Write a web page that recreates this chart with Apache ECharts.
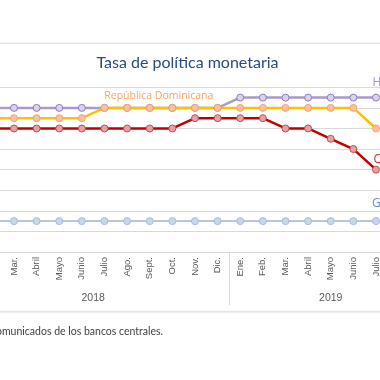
<!DOCTYPE html>
<html><head><meta charset="utf-8">
<script src="https://cdn.jsdelivr.net/npm/echarts@6/dist/echarts.min.js"></script>
<style>
html,body{margin:0;padding:0;background:#fff}
#wrap{position:relative;width:380px;height:380px;overflow:hidden;background:#fff}
#chart{position:absolute;left:-100px;top:0;width:600px;height:380px}
</style>
</head><body><div id="wrap"><div id="chart"></div></div>
<script>
const months = ['Ene.','Feb.','Mar.','Abril','Mayo','Junio','Julio','Ago.','Sept.','Oct.','Nov.','Dic.','Ene.','Feb.','Mar.','Abril','Mayo','Junio','Julio','Ago.','Sept.'];
const years = ['2018','2019'];
const yearSpans = [12, 9];
const honduras  = [5.5,5.5,5.5,5.5,5.5,5.5,5.5,5.5,5.5,5.5,5.5,5.5,5.75,5.75,5.75,5.75,5.75,5.75,5.75,null,null];
const repDom    = [5.25,5.25,5.25,5.25,5.25,5.25,5.5,5.5,5.5,5.5,5.5,5.5,5.5,5.5,5.5,5.5,5.5,5.5,5.0,null,null];
const costaRica = [5.0,5.0,5.0,5.0,5.0,5.0,5.0,5.0,5.0,5.0,5.25,5.25,5.25,5.25,5.0,5.0,4.75,4.5,4.0,null,null];
const guatemala = [2.75,2.75,2.75,2.75,2.75,2.75,2.75,2.75,2.75,2.75,2.75,2.75,2.75,2.75,2.75,2.75,2.75,2.75,2.75,null,null];
const yTicks = {min:2, max:6, interval:0.5};

const OFF = 100;
const chart = echarts.init(document.getElementById('chart'), null, {renderer:'canvas'});

const bounds = [0]; const centers = [];
yearSpans.forEach((s,i)=>{ centers.push(bounds[i] + s/2); bounds.push(bounds[i]+s); });

function withLabel(arr, idx, text, pos, color, size){
  return arr.map((v,i)=> i===idx ? {value:v, label:{show:true, formatter:text, position:pos, align:'left', verticalAlign:'middle', color:color, fontSize:size, fontFamily:'Open Sans'}} : v);
}

function mk(name, data, line, fill, border, lw){
  return {
    name, type:'line', data, xAxisIndex:0, yAxisIndex:0,
    symbol:'circle', symbolSize:7, showAllSymbol:true,
    lineStyle:{color:line, width:lw},
    itemStyle:{color:fill, borderColor:border, borderWidth:1},
    emphasis:{disabled:true}, silent:true, connectNulls:false
  };
}

const option = {
  animation:false,
  backgroundColor:'#fff',
  grid:{left:OFF-42.56, right:600-(OFF-42.56)-475.1, top:87.3, bottom:380-252, outerBoundsMode:'none', containLabel:false},
  xAxis:[
    {type:'category', data:months, boundaryGap:true,
     axisLine:{show:false}, axisTick:{show:false},
     axisLabel:{rotate:90, margin:5, fontSize:9.5, color:'#595959', fontFamily:'Liberation Sans', interval:0}},
    {type:'value', position:'bottom', min:0, max:bounds[bounds.length-1], interval:0.5,
     axisLine:{show:false}, splitLine:{show:false},
     axisTick:{show:true, customValues:bounds, length:53, lineStyle:{color:'#d9d9d9', width:1}},
     axisLabel:{show:true, customValues:centers, margin:41, fontSize:10.5, color:'#595959', fontFamily:'Liberation Sans',
       formatter:(v)=>{ const k = centers.findIndex(c=>Math.abs(c-v)<1e-6); return k>=0?years[k]:''; }}}
  ],
  yAxis:[{type:'value', min:yTicks.min, max:yTicks.max, interval:yTicks.interval,
    axisLine:{show:false}, axisTick:{show:false}, axisLabel:{show:false},
    splitLine:{show:true, lineStyle:{color:'#d9d9d9', width:1}}}],
  graphic:[
    {type:'line', shape:{x1:0,y1:43.3,x2:600,y2:43.3}, style:{stroke:'#e6e6e6', lineWidth:1.5}, silent:true},
    {type:'line', shape:{x1:0,y1:311.7,x2:600,y2:311.7}, style:{stroke:'#e6e6e6', lineWidth:2}, silent:true},
    {type:'text', x:OFF+187.5, y:63, style:{text:'Tasa de política monetaria', textAlign:'center', textVerticalAlign:'middle', fill:'#264c80', fontSize:16, fontFamily:'Lato'}, silent:true},
    {type:'text', x:OFF+163, y:332, style:{text:'Fuente: Comunicados de los bancos centrales.', textAlign:'right', textVerticalAlign:'middle', fill:'#404040', fontSize:10.5, fontFamily:'Lato'}, silent:true}
  ],
  series:[
    mk('Guatemala', withLabel(guatemala,18,'Guatemala',[0,-13.2],'#5b8fd6',12), '#b4c7e7', '#c9d7ee', '#a4bce0', 2),
    mk('Honduras', withLabel(honduras,18,'Honduras',[0.5,-11.2],'#a393c7',12), '#a99bc9', '#d9d2e9', '#8e7cc3', 2.5),
    mk('Costa Rica', withLabel(costaRica,18,'Costa Rica',[1.5,-6],'#c9302c',12), '#c00000', '#e6a0a6', '#c0504d', 2.5),
    mk('República Dominicana', withLabel(repDom,6,'República Dominicana',[3.8,-8.1],'#f7a35c',10.5), '#ffc000', '#f8c29c', '#f4a46f', 2.5)
  ]
};
chart.setOption(option);
</script></body></html>
